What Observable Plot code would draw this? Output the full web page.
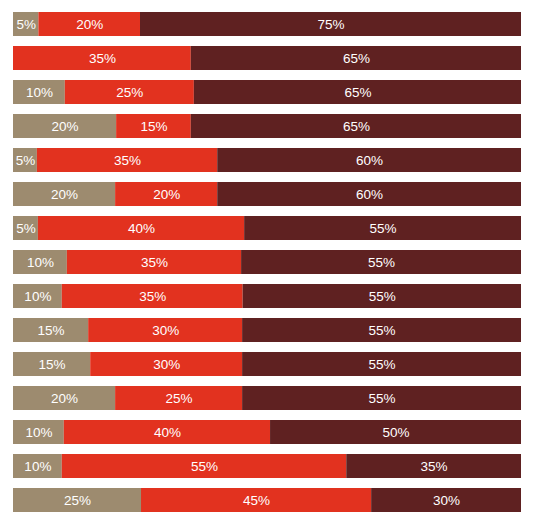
<!DOCTYPE html>
<html>
<head>
<meta charset="utf-8">
<script src="https://cdn.jsdelivr.net/npm/d3@7"></script>
<script src="https://cdn.jsdelivr.net/npm/@observablehq/plot@0.6"></script>
<style>
  html, body { margin: 0; padding: 0; background: #fff; }
</style>
</head>
<body>
<div id="chart"></div>
<script>
// Segment shares per row (%); labels are shown rounded to 5.
const rows = ["1","2","3","4","5","6","7","8","9","10","11","12","13","14","15"];
const tanValues  = [5, 0, 10.2, 20.3, 4.7, 20.1, 4.9, 10.6, 9.6, 14.8, 15.2, 20.1, 10, 9.6, 25.2];
const redValues  = [20, 35, 25.4, 14.7, 35.5, 20.1, 40.6, 34.3, 35.6, 30.3, 29.9, 25, 40.6, 56, 45.3];
const darkValues = [75, 65, 64.4, 65, 59.8, 59.8, 54.5, 55.1, 54.8, 54.9, 54.9, 54.9, 49.4, 34.4, 29.5];
const categories = ["tan", "red", "dark"];
const colors = ["#9d8b6f", "#e2321f", "#5f2121"];

const data = [];
rows.forEach((r, i) => {
  [tanValues, redValues, darkValues].forEach((arr, k) => {
    if (arr[i] > 0) data.push({row: r, cat: categories[k], value: arr[i]});
  });
});

const chart = Plot.plot({
  width: 538,
  height: 531,
  marginLeft: 13,
  marginRight: 17,
  marginTop: 2.5,
  marginBottom: 8.8,
  style: {fontFamily: "'Liberation Sans', Arial, sans-serif", background: "#fff"},
  x: {domain: [0, 100], axis: null},
  y: {domain: rows, padding: 0.28, axis: null},
  color: {domain: categories, range: colors},
  marks: [
    Plot.barX(data, Plot.stackX({x: "value", y: "row", fill: "cat", z: "cat", order: categories})),
    Plot.text(data, Plot.stackX({
      x: "value", y: "row", z: "cat", order: categories,
      text: d => Math.round(d.value / 5) * 5 + "%",
      fill: "white", fontSize: 13.5
    }))
  ]
});
document.getElementById("chart").appendChild(chart);
</script>
</body>
</html>
